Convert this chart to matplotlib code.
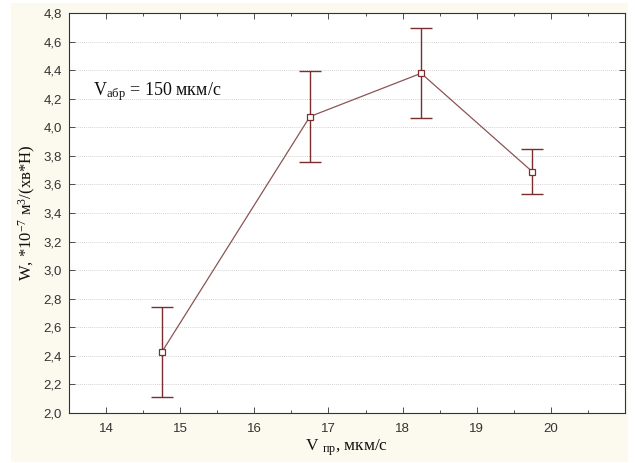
import matplotlib
matplotlib.use("Agg")
import matplotlib.pyplot as plt
from matplotlib.patches import Rectangle
from matplotlib.ticker import MultipleLocator

plt.rcParams['mathtext.fontset'] = 'custom'
plt.rcParams['mathtext.rm'] = 'Liberation Serif'
plt.rcParams['mathtext.default'] = 'regular'

# Data
x_vals = [14.75, 16.75, 18.25, 19.75]
w_vals = [2.425, 4.075, 4.378, 3.689]
w_err = [0.315, 0.32, 0.316, 0.156]
x_ticks = [14, 15, 16, 17, 18, 19, 20]
y_ticks = [2.0, 2.2, 2.4, 2.6, 2.8, 3.0, 3.2, 3.4, 3.6, 3.8, 4.0, 4.2, 4.4, 4.6, 4.8]
y_tick_labels = [f"{v:.1f}".replace('.', ',') for v in y_ticks]

W, H = 635, 463
fig = plt.figure(figsize=(W / 100, H / 100), dpi=100, facecolor='white')
fig.patches.append(Rectangle((11 / W, 1 - 462 / H), (628 - 11) / W, (462 - 3) / H,
                             transform=fig.transFigure, facecolor='#fcf9ee',
                             edgecolor='none', zorder=-10))
ax = fig.add_axes([69 / W, 1 - 413 / H, (625 - 69) / W, (413 - 13) / H])
ax.set_facecolor('white')

ax.plot(x_vals, w_vals, color='#8a5555', lw=0.9, zorder=3)
ax.errorbar(x_vals, w_vals, yerr=w_err, fmt='none', ecolor='#7a2e2e',
            elinewidth=1.0, capsize=8, capthick=1.0, zorder=4)
ax.plot(x_vals, w_vals, ls='none', marker='s', ms=5, mfc='white',
        mec='#7a2e2e', mew=0.9, zorder=5)

ax.set_xlim(13.5, 21.0)
ax.set_ylim(2.0, 4.8)
ax.set_xticks(x_ticks)
ax.set_xticklabels([str(t) for t in x_ticks])
ax.xaxis.set_minor_locator(MultipleLocator(0.5))
ax.set_yticks(y_ticks)
ax.set_yticklabels(y_tick_labels)

ax.grid(axis='y', color='#c4c4c4', ls=(0, (1, 1.5)), lw=0.6)
ax.set_axisbelow(True)

ax.tick_params(axis='both', which='major', direction='in', length=4, width=0.6,
               labelsize=9.5, top=True, right=True, colors='#333333',
               labelcolor='#333333')
ax.tick_params(axis='x', which='minor', direction='in', length=2.5, width=0.6,
               top=True, colors='#333333')
for lab in ax.get_xticklabels() + ax.get_yticklabels():
    lab.set_fontfamily('Liberation Sans')
ax.tick_params(axis='x', pad=7)
ax.tick_params(axis='y', pad=5)
for s in ax.spines.values():
    s.set_color('#333333')
    s.set_linewidth(0.8)

ax.text(13.82, 4.25, r'V$_{абр}$ = 150 мкм/с', fontfamily='Liberation Serif',
        fontsize=13, color='#111111', va='center')

ax.set_xlabel(r'V $_{пр}$, мкм/с', fontfamily='Liberation Serif', fontsize=12.5,
              color='#111111', labelpad=2)
ax.set_ylabel(r'W, *10$^{-7}$ м$^{3}$/(хв*Н)', fontfamily='Liberation Serif',
              fontsize=12, color='#111111', labelpad=4)

fig.savefig('out.png', dpi=100, facecolor=fig.get_facecolor())
